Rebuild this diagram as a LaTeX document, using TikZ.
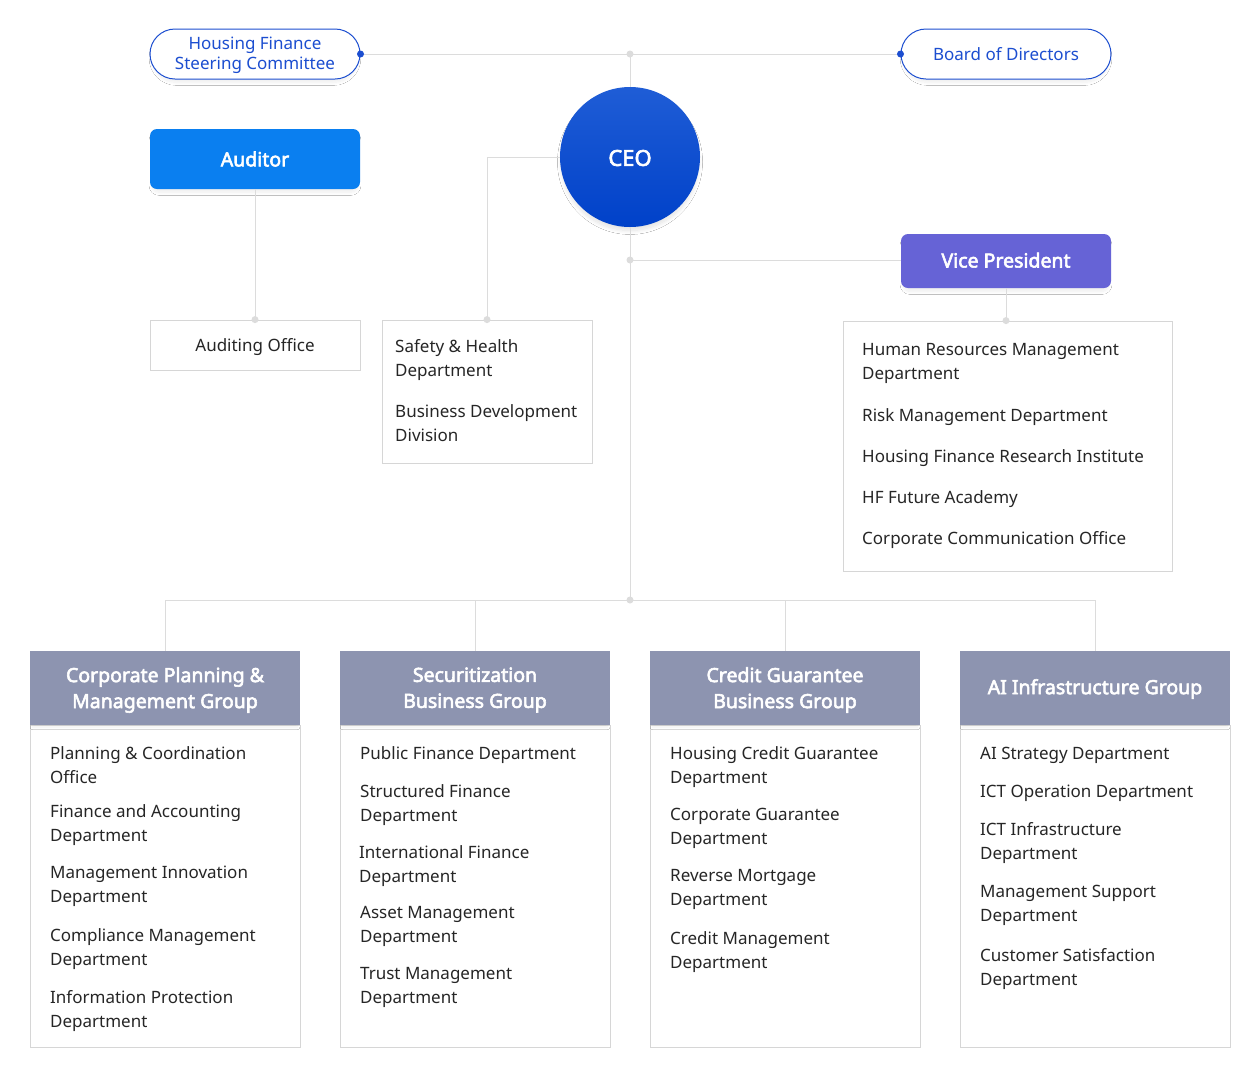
\documentclass[tikz,border=0pt]{standalone}
\usepackage{fontspec}
\setmainfont{Noto Sans}[BoldFont={Noto Sans},BoldFeatures={FakeBold=3}]
\usetikzlibrary{shadows.blur}
\definecolor{linegray}{HTML}{DCDCDC}
\definecolor{boxgray}{HTML}{D6D6D6}
\definecolor{hfblue}{HTML}{1C4ED0}
\definecolor{audblue}{HTML}{0A7FF0}
\definecolor{vppurple}{HTML}{6663D6}
\definecolor{grphead}{HTML}{8D94B0}
\definecolor{txt}{HTML}{262626}
\definecolor{ceotop}{HTML}{1F5DD6}
\definecolor{ceobot}{HTML}{0041C9}
\begin{document}
\begin{tikzpicture}[x=1pt,y=-1pt,
  conn/.style={draw=linegray,line width=1pt},
  jdot/.style={fill=linegray,draw=none},
  bdot/.style={fill=hfblue,draw=none},
  softshadow/.style={blur shadow={shadow blur steps=12,shadow xshift=0pt,shadow yshift=-4pt,shadow blur radius=3pt,shadow opacity=7,shadow scale=0.98}},
  pill/.style={draw=hfblue,line width=1pt,fill=white,rounded corners=25pt,minimum width=210pt,minimum height=50pt,inner sep=0pt,softshadow},
  pilltext/.style={inner sep=0pt,text=hfblue,align=center,font=\fontsize{17}{20}\selectfont},
  topbox/.style={rounded corners=7pt,minimum width=210pt,inner sep=0pt,text=white,font=\fontsize{19.5}{24}\selectfont\bfseries,softshadow},
  plainbox/.style={draw=boxgray,line width=0.8pt,fill=white,inner sep=0pt},
  grouphead/.style={fill=grphead,minimum width=270pt,minimum height=74pt,inner sep=0pt,blur shadow={shadow blur steps=10,shadow xshift=0pt,shadow yshift=-3pt,shadow blur radius=2.5pt,shadow opacity=6,shadow scale=0.98}},
  headtext/.style={inner sep=0pt,text=white,align=center,font=\fontsize{19.5}{26}\selectfont\bfseries},
  item/.style={anchor=north west,inner sep=0pt,align=left,text=txt,font=\fontsize{17}{24}\selectfont,execute at begin node=\strut,yshift=10.8pt},
  item2/.style={item,yshift=-4pt}
]
\useasboundingbox[fill=white] (0,0) rectangle (1260,1080);

% body boxes of groups (drawn first)
\node[plainbox,minimum width=270pt,minimum height=322pt] (b1) at (165,886) {};
\node[plainbox,minimum width=270pt,minimum height=322pt] (b2) at (475,886) {};
\node[plainbox,minimum width=270pt,minimum height=322pt] (b3) at (785,886) {};
\node[plainbox,minimum width=270pt,minimum height=322pt] (b4) at (1095,886) {};

% top level
\node[pill] (hfsc) at (255,54) {};
\node[pilltext] (hfsct) at ([yshift=-1.5pt]hfsc.center) {Housing Finance\\Steering Committee};
\node[pill] (bod) at (1006,54) {};
\node[pilltext] (bodt) at ([yshift=-0.5pt]bod.center) {Board of Directors};
\node[circle,minimum size=140pt,inner sep=0pt,top color=ceotop,bottom color=ceobot,draw=none,blur shadow={shadow blur steps=12,shadow xshift=0pt,shadow yshift=-5pt,shadow blur radius=4pt,shadow opacity=12,shadow scale=0.98}] (ceo) at (630,157) {};
\node[inner sep=0pt,text=white,font=\fontsize{22}{26}\selectfont\bfseries] (ceot) at ([yshift=-1pt]ceo.center) {CEO};
\node[topbox,fill=audblue,minimum height=60pt] (aud) at (255,159) {Auditor};
\node[topbox,fill=vppurple,minimum height=54pt,text height=14pt,text depth=1pt] (vp) at (1006,261) {Vice President};

% second level boxes
\node[plainbox,minimum width=210pt,minimum height=50pt,text=txt,font=\fontsize{17}{24}\selectfont,text height=14pt,text depth=2pt] (audoff) at (255,345) {Auditing Office};
\node[plainbox,minimum width=210pt,minimum height=143pt] (safety) at (487,391.5) {};
\node[plainbox,minimum width=329pt,minimum height=250pt] (vpbox) at (1007.5,446) {};

% connectors
\coordinate (j1) at (630,54);
\coordinate (j2) at (630,260);
\coordinate (j4) at (630,600);
\draw[conn] (hfsc.east) -- (bod.west);
\draw[conn] (j1) -- (ceo.north);
\draw[conn] (aud.south) -- (audoff.north);
\draw[conn] (ceo.west) -| (safety.north);
\draw[conn] (ceo.south) -- (j4);
\draw[conn] (j2) -- (j2 -| vp.west);
\draw[conn] (vp.south) -- (vp.south |- vpbox.north);

% groups
\node[grouphead] (g1) at (165,688) {};
\node[grouphead] (g2) at (475,688) {};
\node[grouphead] (g3) at (785,688) {};
\node[grouphead] (g4) at (1095,688) {};
\node[headtext] (g1t) at ([yshift=-2pt]g1.center) {Corporate Planning \&\\Management Group};
\node[headtext] (g2t) at ([yshift=-2pt]g2.center) {Securitization\\Business Group};
\node[headtext] (g3t) at ([yshift=-2pt]g3.center) {Credit Guarantee\\Business Group};
\node[headtext] (g4t) at ([yshift=-1pt]g4.center) {AI Infrastructure Group};

\draw[conn] (g1.north) -- (g1.north |- j4) -- (g4.north |- j4) -- (g4.north);
\draw[conn] (g2.north) -- (g2.north |- j4);
\draw[conn] (g3.north) -- (g3.north |- j4);

% dots
\fill[bdot] (hfsc.east) circle (3.5pt);
\fill[bdot] (bod.west) circle (3.5pt);
\fill[jdot] (j1) circle (3.5pt);
\fill[jdot] (j2) circle (3.5pt);
\fill[jdot] (j4) circle (3.5pt);
\fill[jdot] (audoff.north) circle (3.5pt);
\fill[jdot] (safety.north) circle (3.5pt);
\fill[jdot] (vp.south |- vpbox.north) circle (3.5pt);

% safety items
\node[item2] (s1) at (395,346) {Safety \& Health\\Department};
\node[item2] (s2) at (395,411) {Business Development\\Division};

% vp items
\node[item2] (v1) at (862,350) {Human Resources Management\\Department};
\node[item] (v2) at (862,415) {Risk Management Department};
\node[item] (v3) at (862,456) {Housing Finance Research Institute};
\node[item] (v4) at (862,497) {HF Future Academy};
\node[item] (v5) at (862,538) {Corporate Communication Office};

% group 1
\node[item2] (a1) at (50,753) {Planning \& Coordination\\Office};
\node[item2] (a2) at (50,811) {Finance and Accounting\\Department};
\node[item2] (a3) at (50,873) {Management Innovation\\Department};
\node[item2] (a4) at (50,935) {Compliance Management\\Department};
\node[item2] (a5) at (50,997) {Information Protection\\Department};

% group 2
\node[item] (c1) at (360,753) {Public Finance Department};
\node[item2] (c2) at (360,791) {Structured Finance\\Department};
\node[item2] (c3) at (359,852) {International Finance\\Department};
\node[item2] (c4) at (360,913) {Asset Management\\Department};
\node[item2] (c5) at (360,974) {Trust Management\\Department};

% group 3
\node[item2] (d1) at (670,753) {Housing Credit Guarantee\\Department};
\node[item2] (d2) at (670,815) {Corporate Guarantee\\Department};
\node[item2] (d3) at (670,876) {Reverse Mortgage\\Department};
\node[item2] (d4) at (670,938) {Credit Management\\Department};

% group 4
\node[item] (e1) at (980,753) {AI Strategy Department};
\node[item] (e2) at (980,791) {ICT Operation Department};
\node[item2] (e3) at (980,829) {ICT Infrastructure\\Department};
\node[item2] (e4) at (980,892) {Management Support\\Department};
\node[item2] (e5) at (980,955) {Customer Satisfaction\\Department};
\end{tikzpicture}
\end{document}
